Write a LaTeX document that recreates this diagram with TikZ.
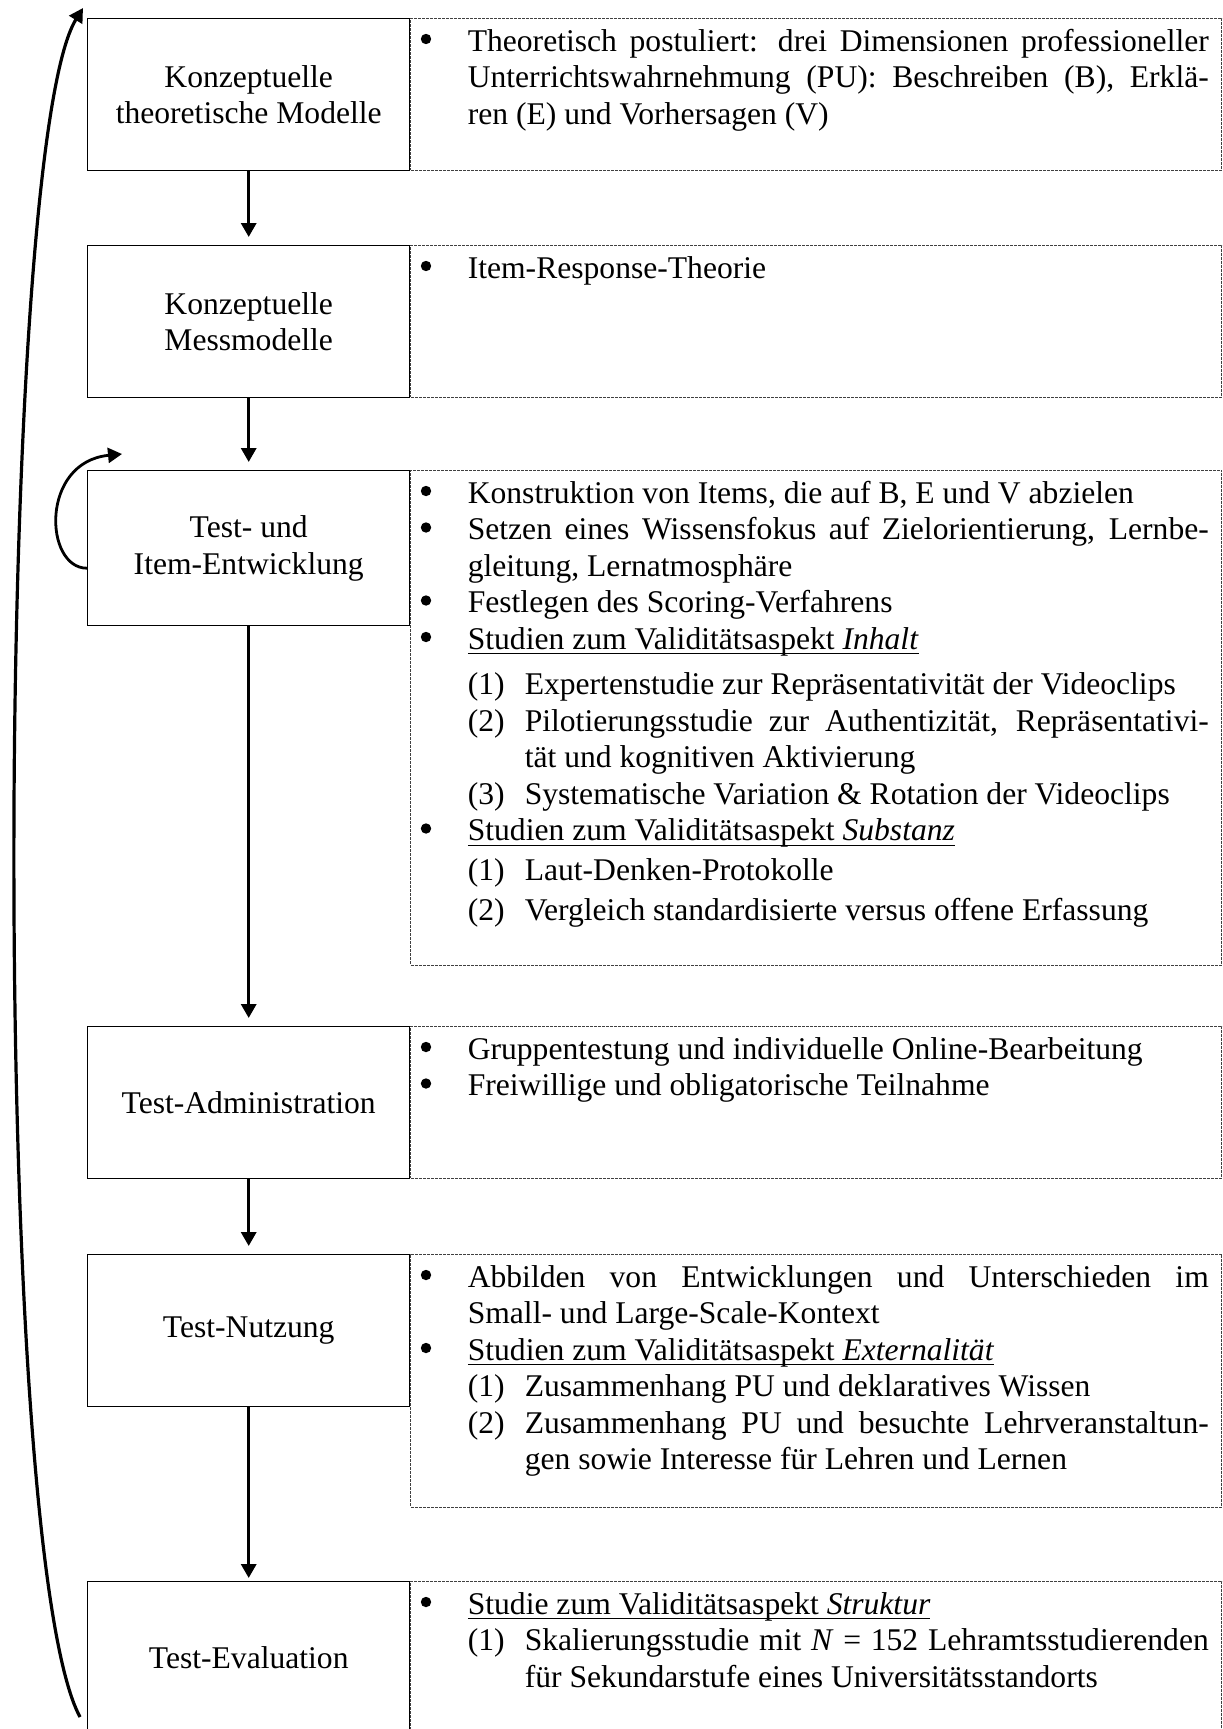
\documentclass[tikz,border=0pt]{standalone}
\usepackage{fontspec}
\setmainfont{Liberation Serif}
\usetikzlibrary{arrows.meta}

\tolerance=10000
\hyphenpenalty=10000

% Schrift der Kaesten
\newcommand{\schrift}{\fontsize{15.8pt}{18.25pt}\selectfont}
% Aufzaehlungspunkt und nummerierter Unterpunkt
\newcommand{\pktzeichen}{\tikz[baseline=-6pt]\fill (0pt,0pt) circle[radius=2.6pt];}
\newcommand{\aufz}{\hangindent=23.5pt\hangafter=1\noindent\makebox[23.5pt][l]{\pktzeichen}\ignorespaces}
\newcommand{\unterpunkt}[1]{\hangindent=52pt\hangafter=1\noindent\hspace*{23.5pt}\makebox[28.5pt][l]{#1}\ignorespaces}
% Unterstreichung knapp unter der Grundlinie
\newsavebox{\ustrbox}
\newcommand{\unterstr}[1]{\sbox{\ustrbox}{#1}\rlap{\rule[-2.6pt]{\wd\ustrbox}{0.6pt}}\usebox{\ustrbox}}

\begin{document}
\begin{tikzpicture}[
    x=0.5pt, y=-0.5pt,   % Koordinaten in Bildpunkten, y nach unten
    stufe/.style={draw, line width=0.7pt, minimum width=161pt, minimum height=76pt,
        inner sep=0pt, align=center, anchor=north west, font=\schrift},
    info/.style={draw=black!75, line width=0.4pt, dash pattern=on 1.5pt off 0.5pt,
        minimum width=405.5pt, inner sep=0pt, anchor=north west},
    inhalt/.style={anchor=base west, text width=394pt, inner sep=0pt, align=justify, font=\schrift},
    pfeil/.style={-{Triangle[length=7pt, width=7.5pt]}, line width=1.6pt, shorten >=4pt}
]

    \useasboundingbox (0,0) rectangle (1222,1729);

    % =========================================================================
    % 1. STUFEN (links) mit Erlaeuterungen (rechts, gestrichelt)
    % =========================================================================

    \node[stufe] (b1) at (87,18) {Konzeptuelle\\theoretische Modelle};
    \node[info, minimum height=76pt] (d1) at (b1.north east) {};
    \node[inhalt] (t1) at ([xshift=5pt, yshift=-16.5pt]d1.north west)
        {\aufz Theoretisch postuliert: drei Dimensionen professioneller\linebreak
         Unterrichtswahrnehmung (PU): Beschreiben (B), Erklä-\linebreak ren (E) und Vorhersagen (V)\par};

    \node[stufe] (b2) at (87,245) {Konzeptuelle\\Messmodelle};
    \node[info, minimum height=76pt] (d2) at (b2.north east) {};
    \node[inhalt] (t2) at ([xshift=5pt, yshift=-16.5pt]d2.north west)
        {\aufz Item-Response-Theorie\par};

    \node[stufe, minimum height=77.5pt] (b3) at (87,470) {Test- und\\Item-Entwicklung};
    \node[info, minimum height=247.5pt] (d3) at (b3.north east) {};
    \node[inhalt] (t3) at ([xshift=5pt, yshift=-16.5pt]d3.north west)
        {\aufz Konstruktion von Items, die auf B, E und V abzielen
         \par\aufz Setzen eines Wissensfokus auf Zielorientierung, Lernbe-\linebreak gleitung, Lernatmosphäre
         \par\aufz Festlegen des Scoring-Verfahrens
         \par\aufz \unterstr{Studien zum Validitätsaspekt \textit{Inhalt}}
         \par\vspace{4.5pt}\unterpunkt{(1)} Expertenstudie zur Repräsentativität der Videoclips
         \par\unterpunkt{(2)} Pilotierungsstudie zur Authentizität, Repräsentativi-\linebreak tät und kognitiven Aktivierung
         \par\unterpunkt{(3)} Systematische Variation \& Rotation der Videoclips
         \par\aufz \unterstr{Studien zum Validitätsaspekt \textit{Substanz}}
         \par\vspace{1.5pt}\unterpunkt{(1)} Laut-Denken-Protokolle
         \par\vspace{2pt}\unterpunkt{(2)} Vergleich standardisierte versus offene Erfassung\par};

    \node[stufe] (b4) at (87,1026) {Test-Administration};
    \node[info, minimum height=76pt] (d4) at (b4.north east) {};
    \node[inhalt] (t4) at ([xshift=5pt, yshift=-16.5pt]d4.north west)
        {\aufz Gruppentestung und individuelle Online-Bearbeitung
         \par\aufz Freiwillige und obligatorische Teilnahme\par};

    \node[stufe] (b5) at (87,1254) {Test-Nutzung};
    \node[info, minimum height=126.5pt] (d5) at (b5.north east) {};
    \node[inhalt] (t5) at ([xshift=5pt, yshift=-16.5pt]d5.north west)
        {\aufz Abbilden von Entwicklungen und Unterschieden im\linebreak Small- und Large-Scale-Kontext
         \par\aufz \unterstr{Studien zum Validitätsaspekt \textit{Externalität}}
         \par\unterpunkt{(1)} Zusammenhang PU und deklaratives Wissen
         \par\unterpunkt{(2)} Zusammenhang PU und besuchte Lehrveranstaltun-\linebreak gen sowie Interesse für Lehren und Lernen\par};

    \node[stufe] (b6) at (87,1581) {Test-Evaluation};
    \node[info, minimum height=76pt] (d6) at (b6.north east) {};
    \node[inhalt] (t6) at ([xshift=5pt, yshift=-16.5pt]d6.north west)
        {\aufz \unterstr{Studie zum Validitätsaspekt \textit{Struktur}}
         \par\unterpunkt{(1)} Skalierungsstudie mit \textit{N} = 152 Lehramtsstudierenden\linebreak für Sekundarstufe eines Universitätsstandorts\par};

    % =========================================================================
    % 2. PFEILE
    % =========================================================================

    % Abfolge der Stufen
    \draw[pfeil] (b1.south) -- (b2.north);
    \draw[pfeil] (b2.south) -- (b3.north);
    \draw[pfeil] (b3.south) -- (b4.north);
    \draw[pfeil] (b4.south) -- (b5.north);
    \draw[pfeil, shorten >=1.5pt] (b5.south) -- (b6.north);

    % Schleife an der Item-Entwicklung
    \coordinate (schleife) at ([xshift=17.5pt, yshift=8pt]b3.north west);
    \draw[pfeil, line width=1.4pt, shorten >=0pt] ([yshift=-10pt]b3.west)
        .. controls +(-21.5pt,0pt) and +(-41pt,-4pt) .. (schleife);

    % Rueckkopplung von der Evaluation zu den Modellen
    \coordinate (rueckstart) at (80,1717);
    \coordinate (rueckziel) at (83,8);
    \draw[pfeil, shorten >=0pt] (rueckstart) .. controls (-10,1550) and (-5,150) .. (rueckziel);

\end{tikzpicture}
\end{document}
